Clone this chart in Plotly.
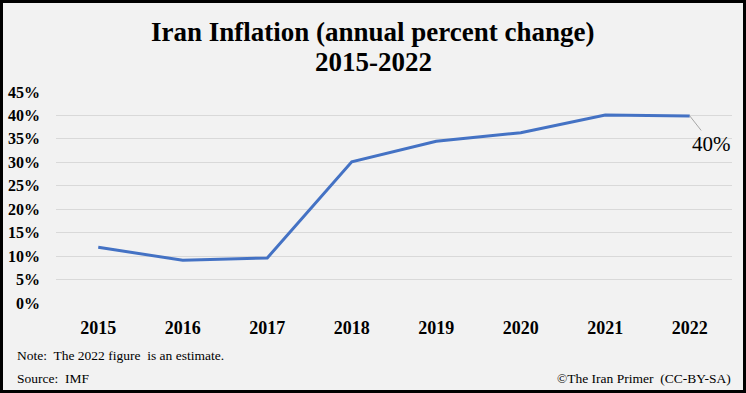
import plotly.graph_objects as go

years = ["2015", "2016", "2017", "2018", "2019", "2020", "2021", "2022"]
inflation = [11.9, 9.1, 9.6, 30.1, 34.5, 36.3, 40.1, 39.9]
y_ticks = [0, 5, 10, 15, 20, 25, 30, 35, 40, 45]
y_labels = [f"{v}%" for v in y_ticks]

SERIF = "Book Antiqua, Palatino Linotype, Palatino, Liberation Serif, serif"
W, H = 746, 393
ml, mr, mt, mb = 56, 14, 92, 90
pw, ph = W - ml - mr, H - mt - mb

def px(x):
    return (x - ml) / pw

def py(y):
    return (H - mb - y) / ph

fig = go.Figure()
fig.add_trace(go.Scatter(
    x=years, y=inflation, mode="lines",
    line=dict(color="#4472c4", width=3),
    hoverinfo="skip", showlegend=False,
))

fig.update_layout(
    width=W, height=H,
    margin=dict(l=ml, r=mr, t=mt, b=mb, autoexpand=False),
    paper_bgcolor="#f2f2f2", plot_bgcolor="#f2f2f2",
    font=dict(family=SERIF, color="black"),
    xaxis=dict(
        type="category", categoryarray=years, categoryorder="array",
        range=[-0.5, len(years) - 0.5], autorange=False,
        showgrid=False, zeroline=False, showline=False,
        tickfont=dict(family=SERIF, size=18, color="black", weight="bold"),
        ticklabelstandoff=12,
    ),
    yaxis=dict(
        range=[0, 45], autorange=False, tickvals=y_ticks, ticktext=y_labels,
        showgrid=True, gridcolor="#d9d9d9", gridwidth=1, zeroline=False,
        showline=False,
        tickfont=dict(family=SERIF, size=16, color="black", weight="bold"),
        ticklabelstandoff=15,
    ),
    shapes=[dict(type="rect", xref="paper", yref="paper",
                 x0=px(1.5), x1=px(W - 1.5), y0=py(H - 1.5), y1=py(1.5),
                 line=dict(color="black", width=3), fillcolor="rgba(0,0,0,0)",
                 layer="above")],
    annotations=[
        dict(xref="paper", yref="paper", x=px(W / 2), y=py(32), xanchor="center",
             yanchor="middle", showarrow=False,
             text="<b>Iran Inflation (annual percent change)</b>",
             font=dict(family=SERIF, size=27, color="black")),
        dict(xref="paper", yref="paper", x=px(W / 2), y=py(62), xanchor="center",
             yanchor="middle", showarrow=False, text="<b>2015-2022</b>",
             font=dict(family=SERIF, size=27, color="black")),
        dict(x=len(years) - 1, y=inflation[-1], xref="x", yref="y", text="40%",
             showarrow=True, arrowhead=0, arrowwidth=1, arrowcolor="#a6a6a6",
             ax=22, ay=28, font=dict(family="Liberation Serif, serif", size=21,
                                     color="black")),
        dict(xref="paper", yref="paper", x=px(15), y=py(355), xanchor="left",
             yanchor="middle", showarrow=False,
             text="Note:  The 2022 figure  is an estimate.",
             font=dict(family=SERIF, size=13.5, color="black")),
        dict(xref="paper", yref="paper", x=px(15), y=py(378), xanchor="left",
             yanchor="middle", showarrow=False, text="Source:  IMF",
             font=dict(family=SERIF, size=13.5, color="black")),
        dict(xref="paper", yref="paper", x=px(733), y=py(378), xanchor="right",
             yanchor="middle", showarrow=False,
             text="©The Iran Primer  (CC-BY-SA)",
             font=dict(family=SERIF, size=13.5, color="black")),
    ],
)

fig.write_html(
    "out.html",
    config={"displayModeBar": False},
    post_script="document.body.style.margin='0';document.body.style.padding='0';",
)
